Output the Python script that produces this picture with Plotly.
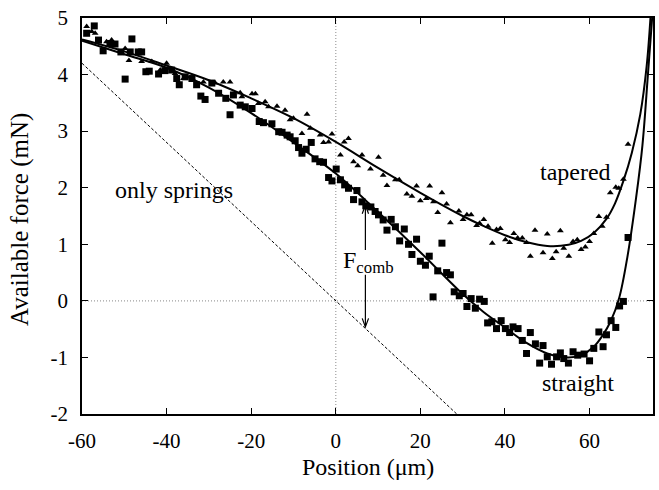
import plotly.graph_objects as go

# ---- data ----
straight_x = [-58.9,-57.1,-56.1,-55,-53.4,-52.2,-50.8,-49.8,-48.6,-48.2,-46.7,-45.9,-44.9,-44.1,-41.9,-40.4,-38.8,-37.6,-37,-35.6,-34,-32.9,-31.9,-30.9,-29.3,-27.7,-26,-25,-24.2,-22.6,-21.4,-19.8,-18.1,-17.1,-15.1,-13.5,-12.7,-11.5,-10.8,-9.6,-8.8,-8,-7,-5.8,-4.9,-3.8,-2.9,-1.7,-0.9,0.1,1.1,2.1,3,4.2,5,6.2,7.1,8.3,9.3,10.1,11.2,12.1,13.1,14.1,15.1,16.2,17.2,18,19.1,20,21.2,22.1,23,24.1,25.1,26.2,27.1,28,29.2,30.1,31,32,33,34,35.1,35.9,36.9,38,39.1,40.1,41.1,41.9,43.1,44.1,45.1,46,47.2,48.2,49,50,51,52.2,53.1,53.9,55,56.1,57.2,58.7,60,61,62.2,63.2,64,65.1,66.2,67.1,68,69.1]
straight_y = [4.73,4.86,4.61,4.42,4.55,4.54,4.40,3.92,4.40,4.63,4.40,4.40,4.05,4.06,4.01,4.07,4.08,3.93,3.82,3.96,3.93,3.82,3.62,3.56,3.85,3.67,3.58,3.29,3.64,3.46,3.43,3.40,3.17,3.15,3.13,2.99,2.98,2.93,2.90,2.83,2.71,2.61,2.68,2.80,2.51,2.46,2.45,2.18,2.12,2.33,2.14,2.05,1.99,1.79,1.95,1.75,1.68,1.66,1.58,1.52,1.43,1.25,1.44,1.31,1.06,1.27,1.0,0.82,1.09,0.70,0.63,0.79,0.07,0.53,1.02,0.50,0.46,0.16,0.09,0.13,-0.10,0.04,-0.13,0.03,-0.01,-0.39,-0.37,-0.49,-0.35,-0.49,-0.56,-0.46,-0.49,-0.70,-0.93,-0.56,-0.76,-1.10,-0.79,-0.99,-1.12,-0.99,-0.92,-1.02,-1.10,-0.90,-0.96,-0.94,-1.06,-0.84,-0.55,-0.81,-0.60,-0.35,-0.47,-0.09,-0.01,1.12]

tapered_x = [-58.9,-57.7,-56.9,-54.2,-53,-49.8,-48.9,-45.9,-43.5,-41.5,-40,-38,-36,-31.3,-28.5,-26.6,-25,-22.6,-22.2,-19.8,-19,-18.3,-16.7,-15.9,-13.9,-12,-10.8,-10,-8,-6.8,-6,-3.7,-2.9,-1.7,-0.9,1.1,2,3,4.2,5.2,6.2,8.2,10.1,11.2,12.1,14.1,15,16.8,18,19.1,20,21.4,22.2,23.1,24.1,25.1,26.2,27.1,29.1,30.1,31,32,33.3,34,35,36,37,38,38.9,40.1,41.1,42.1,43,44.1,45.1,46,47.1,49,50,51.2,52.1,53.1,53.9,55.1,56.1,57.1,58,59,60,61,62.2,63,64,64.9,66.2,66.9,68,69.1]
tapered_y = [4.85,4.76,4.73,4.58,4.61,4.46,4.25,4.23,4.23,4.08,4.20,4.02,3.93,3.87,3.85,3.87,3.87,3.68,3.61,3.66,3.66,3.49,3.52,3.43,3.44,3.37,3.20,3.23,2.96,3.30,3.05,2.93,2.80,2.81,2.95,2.58,2.81,2.87,2.46,2.39,2.58,2.33,2.54,2.22,2.04,2.14,2.14,1.89,1.85,2.03,1.77,1.81,2.03,1.75,1.56,1.91,1.71,1.38,1.59,1.44,1.52,1.52,1.33,1.37,1.44,1.32,1.02,1.26,1.28,1.08,1.03,1.19,1.11,1.11,1.03,0.79,1.25,0.85,1.18,0.75,0.87,1.24,0.93,0.79,1.05,1.08,0.91,0.95,1.05,1.19,1.49,1.32,1.48,1.91,2.01,1.99,2.15,2.77]

fit_tapered_x = [-60,-50,-40,-30,-20,-10,0,10,20,30,35,40,45,50,55,58,61,64,66,68,70,72,73.5,74.4]
fit_tapered_y = [4.62,4.41,4.16,3.90,3.58,3.23,2.81,2.35,1.91,1.50,1.32,1.16,1.04,0.97,0.99,1.06,1.20,1.45,1.72,2.12,2.62,3.30,4.15,5.0]

fit_straight_x = [-60,-50,-40,-30,-20,-10,0,10,20,30,35,40,45,50,55,58,61,63,65,67,69,71,72.5,73.8,74.8]
fit_straight_y = [4.60,4.36,4.12,3.77,3.32,2.80,2.25,1.57,0.86,0.12,-0.20,-0.47,-0.74,-0.93,-1.0,-0.96,-0.81,-0.62,-0.36,0.05,0.80,1.82,2.75,4.0,5.0]

springs_x = [-60, 28.6]
springs_y = [4.2, -2.0]

# F_comb marker: position, arrow ends (data units)
fcomb_x = 7.0
fcomb_top, fcomb_up_tail = 1.69, 0.90
fcomb_bottom, fcomb_down_tail = -0.46, 0.46

x_ticks = [-60, -40, -20, 0, 20, 40, 60]
y_ticks = [-2, -1, 0, 1, 2, 3, 4, 5]

FONT = "Times New Roman"

fig = go.Figure()
fig.add_trace(go.Scatter(x=springs_x, y=springs_y, mode="lines",
                         line=dict(color="black", width=1, dash="3px,2px"), showlegend=False))
fig.add_trace(go.Scatter(x=fit_tapered_x, y=fit_tapered_y, mode="lines",
                         line=dict(color="black", width=2, shape="spline", smoothing=1.0), showlegend=False))
fig.add_trace(go.Scatter(x=fit_straight_x, y=fit_straight_y, mode="lines",
                         line=dict(color="black", width=2, shape="spline", smoothing=1.0), showlegend=False))
fig.add_trace(go.Scatter(x=tapered_x, y=tapered_y, mode="markers",
                         marker=dict(symbol="triangle-up", size=6, color="black"), showlegend=False))
fig.add_trace(go.Scatter(x=straight_x, y=straight_y, mode="markers",
                         marker=dict(symbol="square", size=7, color="black"), showlegend=False))

# dotted reference lines at zero
fig.add_shape(type="line", xref="x", yref="paper", x0=0, x1=0, y0=0, y1=1,
              line=dict(color="#a0a0a0", width=1.2, dash="1px,2px"), layer="below")
fig.add_shape(type="line", xref="paper", yref="y", x0=0, x1=1, y0=0, y1=0,
              line=dict(color="#a0a0a0", width=1.2, dash="1px,2px"), layer="below")

# F_comb double arrow (shaft + open V heads)
hw, hh = 0.75, 0.15
arrow_line = dict(color="black", width=1.2)
fig.add_shape(type="line", x0=fcomb_x, x1=fcomb_x, y0=fcomb_up_tail, y1=fcomb_top, line=arrow_line)
fig.add_shape(type="line", x0=fcomb_x, x1=fcomb_x, y0=fcomb_down_tail, y1=fcomb_bottom, line=arrow_line)
fig.add_shape(type="path", line=arrow_line,
              path=f"M {fcomb_x-hw},{fcomb_top-hh} L {fcomb_x},{fcomb_top} L {fcomb_x+hw},{fcomb_top-hh}")
fig.add_shape(type="path", line=arrow_line,
              path=f"M {fcomb_x-hw},{fcomb_bottom+hh} L {fcomb_x},{fcomb_bottom} L {fcomb_x+hw},{fcomb_bottom+hh}")

tfont = dict(family=FONT, size=24, color="black")
fig.add_annotation(x=7.8, y=0.69, text="F<sub>comb</sub>", showarrow=False, font=tfont)
fig.add_annotation(x=-38.2, y=1.96, text="only springs", showarrow=False, font=tfont)
fig.add_annotation(x=56.7, y=2.28, text="tapered", showarrow=False, font=tfont)
fig.add_annotation(x=57.2, y=-1.45, text="straight", showarrow=False, font=tfont)

# axis titles
fig.add_annotation(xref="paper", yref="paper", x=0.5, y=0, yshift=-53, yanchor="middle",
                   text="Position (μm)", showarrow=False, font=dict(family=FONT, size=24, color="black"))
fig.add_annotation(xref="paper", yref="paper", x=0, y=0.49, xshift=-62, xanchor="center",
                   textangle=-90, text="Available force (mN)", showarrow=False,
                   font=dict(family=FONT, size=25, color="black"))

axis_common = dict(showgrid=False, zeroline=False, showline=True, linecolor="black", linewidth=1.5,
                   mirror="ticks", ticks="inside", ticklen=6, tickwidth=1, tickcolor="black",
                   automargin=False, tickfont=dict(family=FONT, size=21, color="black"))
fig.update_xaxes(range=[-60, 75], tickvals=x_ticks, ticktext=[str(v) for v in x_ticks],
                 ticklabelstandoff=7, **axis_common)
fig.update_yaxes(range=[-2, 5], tickvals=y_ticks, ticktext=[str(v) for v in y_ticks],
                 ticklabelstandoff=8, **axis_common)

fig.update_layout(width=659, height=490, margin=dict(l=82, r=6, t=18, b=76),
                  plot_bgcolor="white", paper_bgcolor="white",
                  font=dict(family=FONT, color="black"))
fig.write_html("out.html", config={"displayModeBar": False},
               post_script="document.body.style.margin='0px';")
